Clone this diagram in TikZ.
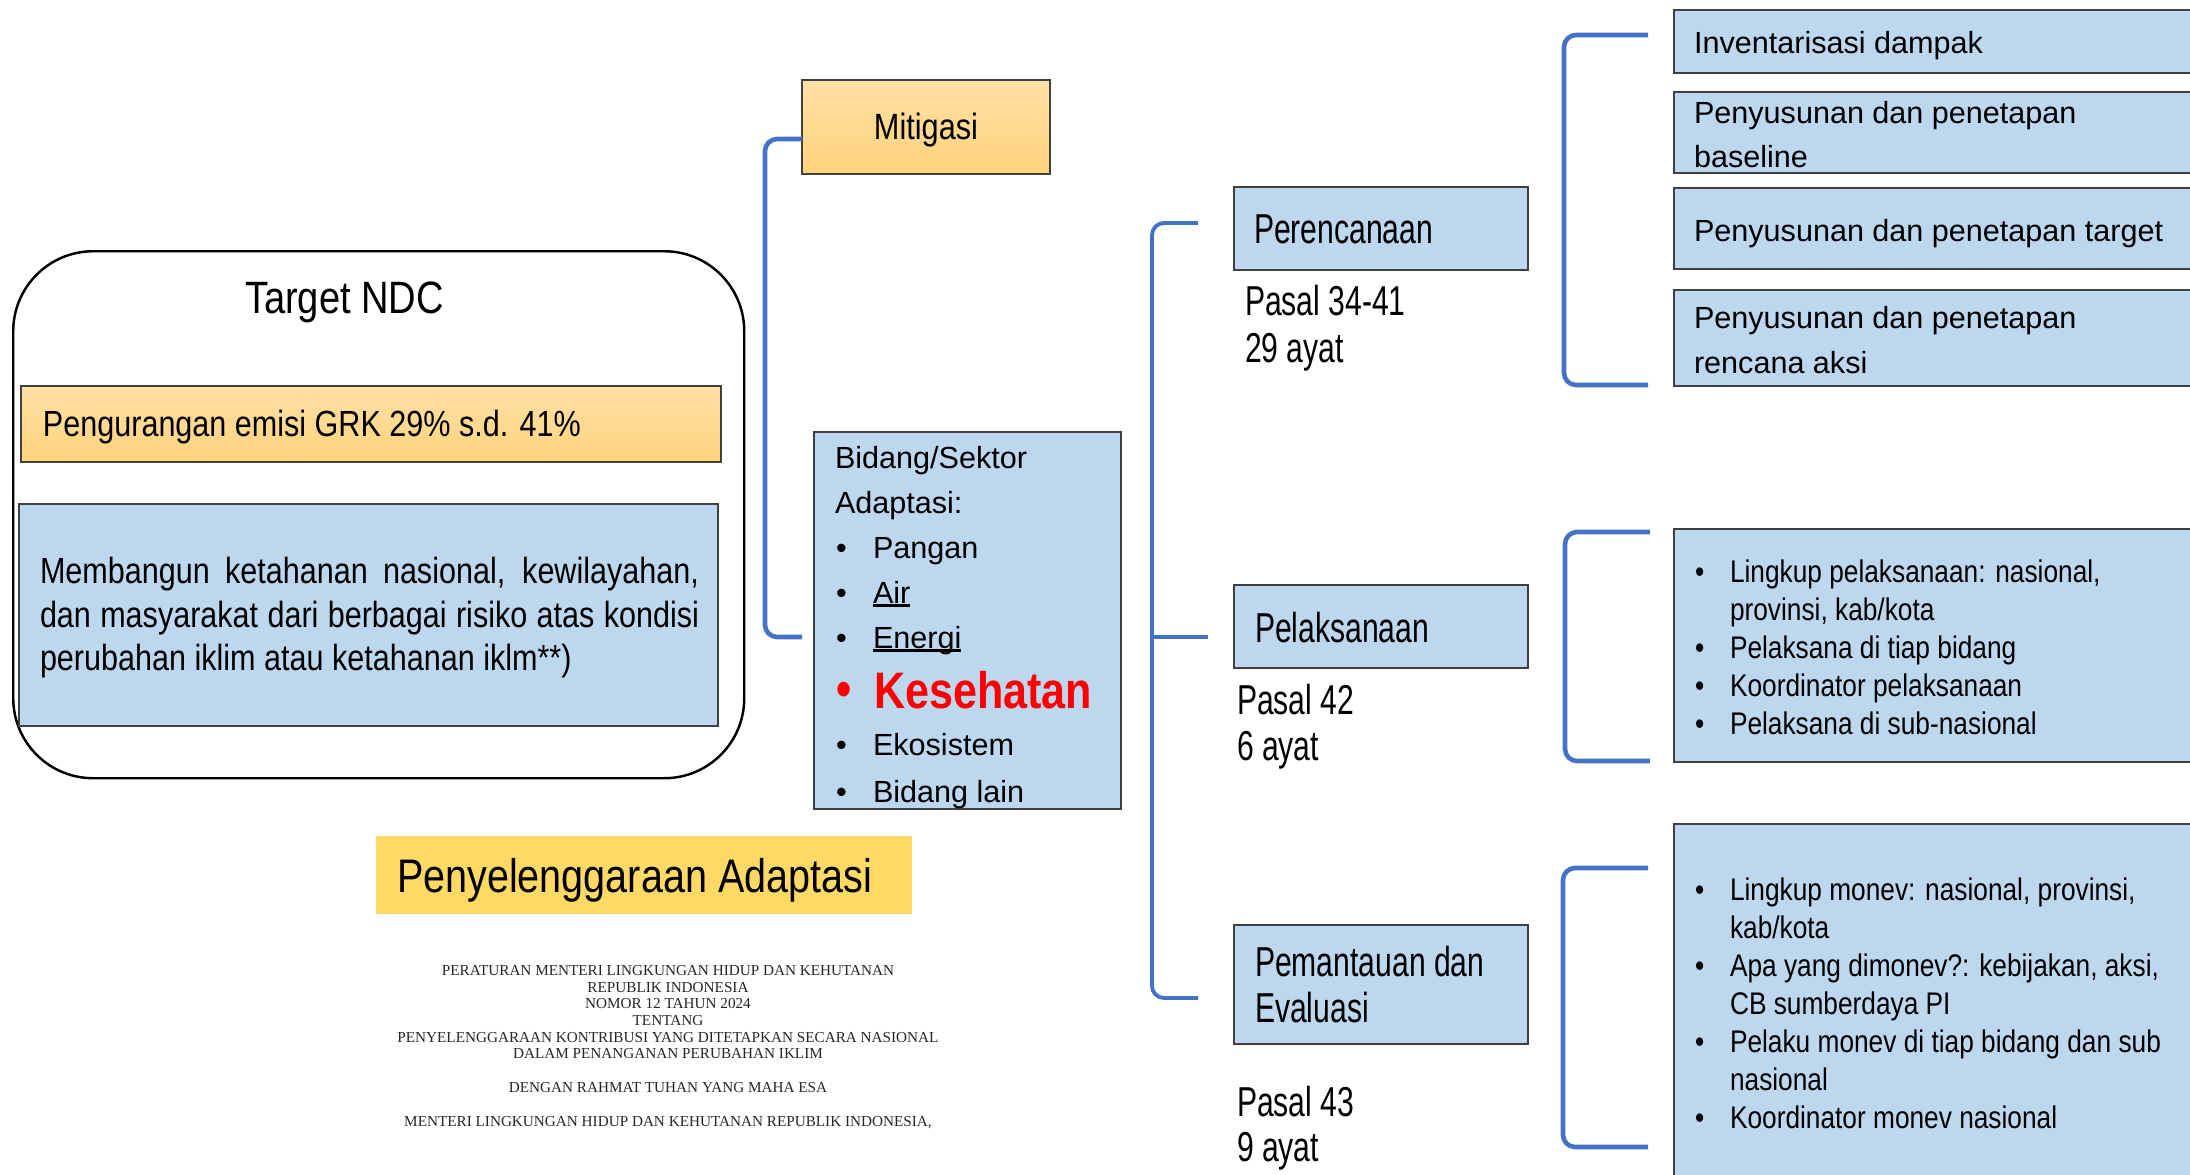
\documentclass[tikz,border=0pt]{standalone}
\usepackage{fontspec}
\setmainfont{Liberation Sans}
\newfontfamily\fntnarrow{Liberation Sans}[FakeStretch=0.84]
\newfontfamily\fntcond{Liberation Sans}[FakeStretch=0.72]
\newfontfamily\fntreg{Liberation Serif}
\usetikzlibrary{positioning}
\definecolor{boxblue}{HTML}{BDD7EE}
\definecolor{orangetop}{HTML}{FFE0A6}
\definecolor{orangebot}{HTML}{FFD37C}
\definecolor{titleyellow}{HTML}{FFD966}
\definecolor{bracketblue}{HTML}{4472C4}
\definecolor{edgegray}{HTML}{404040}
\definecolor{kesred}{HTML}{FF0000}
\newcommand{\sizept}[1]{\fontsize{#1}{#1}\selectfont}
\newcommand{\undl}[1]{\setbox0\hbox{#1}\rlap{\rule[-1pt]{\wd0}{0.6pt}}\box0}
\tikzset{
	bluebox/.style={
			shape=rectangle,
			draw=edgegray,
			line width=0.6pt,
			fill=boxblue,
			inner sep=0pt,
			outer sep=0pt,
			anchor=north west
		},
	orangebox/.style={
			bluebox,
			top color=orangetop,
			bottom color=orangebot
		},
	ndcframe/.style={
			shape=rectangle,
			draw=black,
			line width=0.7pt,
			rounded corners=8mm,
			inner sep=0pt,
			anchor=north west
		},
	txt/.style={
			anchor=base west,
			inner sep=0pt,
			outer sep=0pt
		},
	bracketline/.style={
			draw=bracketblue,
			line width=1.3pt,
			rounded corners=1.2mm
		}
}
\tikzset{
	leftfont/.style={font=\fntnarrow\sizept{10.35}},
	stagefont/.style={font=\fntcond\sizept{11.9}},
	stepfont/.style={font=\sizept{8.7}},
	listfont/.style={font=\fntnarrow\sizept{8.9}},
	regfont/.style={font=\fntreg\sizept{4.33}, anchor=base, inner sep=0pt, text=black!85}
}

\begin{document}
\begin{tikzpicture}[x=0.1mm, y=-0.1mm]

  \useasboundingbox (0,0) rectangle (2190,1174);
  \clip (0,0) rectangle (2190,1174);

  % target NDC
  \node[ndcframe, minimum width=73.1mm, minimum height=52.7mm] (ndc) at (12,250) {};
  \node[txt, font=\fntnarrow\sizept{12.9}] (ndctitle) at (245,313) {Target NDC};
  \node[orangebox, minimum width=70mm, minimum height=7.6mm] (emisi) at (21,386) {};
  \node[txt, leftfont] (emisitext) at (43,436) {Pengurangan emisi GRK 29\% s.d. 41\%};
  \node[bluebox, minimum width=69.9mm, minimum height=22.2mm] (tahanan) at (19,504) {};
  \node[txt, leftfont] (th1) at (40,583) {\makebox[65.9mm][s]{Membangun ketahanan nasional, kewilayahan,}};
  \node[txt, leftfont] (th2) at (40,627) {\makebox[65.9mm][s]{dan masyarakat dari berbagai risiko atas kondisi}};
  \node[txt, leftfont] (th3) at (40,670) {perubahan iklim atau ketahanan iklm**)};

  % mitigasi / adaptasi
  \node[orangebox, minimum width=24.8mm, minimum height=9.4mm] (mitigasi) at (802,80) {};
  \node[font=\fntnarrow\sizept{10.4}, anchor=base, inner sep=0pt] (mittext) at (926,140) {Mitigasi};

  \node[bluebox, minimum width=30.7mm, minimum height=37.7mm] (bidang) at (814,432) {};
  \node[txt, stepfont] (b0) at (835,468) {Bidang/Sektor};
  \node[txt, stepfont] (b1) at (835,513) {Adaptasi:};
  \node[txt, stepfont] at (836,558) {\textbullet};
  \node[txt, stepfont] (b2) at (873,558) {Pangan};
  \node[txt, stepfont] at (836,603) {\textbullet};
  \node[txt, stepfont] (b3) at (873,603) {\undl{Air}};
  \node[txt, stepfont] at (836,648) {\textbullet};
  \node[txt, stepfont] (b4) at (873,648) {\undl{Energi}};
  \node[txt, font=\fntnarrow\bfseries\sizept{14.6}, text=kesred] at (836,706) {\textbullet};
  \node[txt, font=\fntnarrow\bfseries\sizept{14.6}, text=kesred] (b5) at (874,708) {Kesehatan};
  \node[txt, stepfont] at (836,755) {\textbullet};
  \node[txt, stepfont] (b6) at (873,755) {Ekosistem};
  \node[txt, stepfont] at (836,802) {\textbullet};
  \node[txt, stepfont] (b7) at (873,802) {Bidang lain};

  \node[fill=titleyellow, anchor=north west, inner sep=0pt, minimum width=53.6mm, minimum height=7.8mm] (adaptasi) at (375,835) {};
  \node[txt, font=\fntnarrow\sizept{13.4}] (adaptext) at (397,892) {Penyelenggaraan Adaptasi};

  \node[regfont] (r1) at (668,975) {PERATURAN MENTERI LINGKUNGAN HIDUP DAN KEHUTANAN};
  \node[regfont] (r2) at (668,992) {REPUBLIK INDONESIA};
  \node[regfont] (r3) at (668,1008) {NOMOR 12 TAHUN 2024};
  \node[regfont] (r4) at (668,1025) {TENTANG};
  \node[regfont] (r5) at (668,1042) {PENYELENGGARAAN KONTRIBUSI YANG DITETAPKAN SECARA NASIONAL};
  \node[regfont] (r6) at (668,1058) {DALAM PENANGANAN PERUBAHAN IKLIM};
  \node[regfont] (r7) at (668,1092) {DENGAN RAHMAT TUHAN YANG MAHA ESA};
  \node[regfont] (r8) at (668,1126) {MENTERI LINGKUNGAN HIDUP DAN KEHUTANAN REPUBLIK INDONESIA,};

  % tahapan
  \node[bluebox, minimum width=29.4mm, minimum height=8.3mm] (perencanaan) at (1234,187) {};
  \node[txt, stagefont] at (1254,243) {Perencanaan};
  \node[txt, stagefont] (pasal1) at (1245,315) {Pasal 34-41};
  \node[txt, stagefont] (ayat1) at (1245,362) {29 ayat};

  \node[bluebox, minimum width=29.4mm, minimum height=8.3mm] (pelaksanaan) at (1234,585) {};
  \node[txt, stagefont] at (1255,642) {Pelaksanaan};
  \node[txt, stagefont] (pasal2) at (1237,714) {Pasal 42};
  \node[txt, stagefont] (ayat2) at (1237,760) {6 ayat};

  \node[bluebox, minimum width=29.4mm, minimum height=11.9mm] (pemantauan) at (1234,925) {};
  \node[txt, stagefont] at (1255,976) {Pemantauan dan};
  \node[txt, stagefont] at (1255,1022) {Evaluasi};
  \node[txt, stagefont] (pasal3) at (1237,1116) {Pasal 43};
  \node[txt, stagefont] (ayat3) at (1237,1161) {9 ayat};

  % rincian perencanaan
  \node[bluebox, minimum width=53mm, minimum height=6.3mm] (inventaris) at (1674,10) {};
  \node[txt, stepfont] at (1694,54) {Inventarisasi dampak};
  \node[bluebox, minimum width=53mm, minimum height=8.1mm] (baseline) at (1674,92) {};
  \node[txt, stepfont] at (1694,124) {Penyusunan dan penetapan};
  \node[txt, stepfont] at (1694,168) {baseline};
  \node[bluebox, minimum width=53mm, minimum height=8.1mm] (target) at (1674,188) {};
  \node[txt, stepfont] at (1694,241) {Penyusunan dan penetapan target};
  \node[bluebox, minimum width=53mm, minimum height=9.6mm] (aksi) at (1674,290) {};
  \node[txt, stepfont] at (1694,328) {Penyusunan dan penetapan};
  \node[txt, stepfont] at (1694,373) {rencana aksi};

  % rincian pelaksanaan
  \node[bluebox, minimum width=53mm, minimum height=23.3mm] (laksana) at (1674,529) {};
  \node[txt, listfont] at (1695,582) {\textbullet};
  \node[txt, listfont] at (1730,582) {Lingkup pelaksanaan: nasional,};
  \node[txt, listfont] at (1730,620) {provinsi, kab/kota};
  \node[txt, listfont] at (1695,658) {\textbullet};
  \node[txt, listfont] at (1730,658) {Pelaksana di tiap bidang};
  \node[txt, listfont] at (1695,696) {\textbullet};
  \node[txt, listfont] at (1730,696) {Koordinator pelaksanaan};
  \node[txt, listfont] at (1695,734) {\textbullet};
  \node[txt, listfont] at (1730,734) {Pelaksana di sub-nasional};

  % rincian monev
  \node[bluebox, minimum width=53mm, minimum height=37mm] (monev) at (1674,824) {};
  \node[txt, listfont] at (1695,900) {\textbullet};
  \node[txt, listfont] at (1730,900) {Lingkup monev: nasional, provinsi,};
  \node[txt, listfont] at (1730,938) {kab/kota};
  \node[txt, listfont] at (1695,976) {\textbullet};
  \node[txt, listfont] at (1730,976) {Apa yang dimonev?: kebijakan, aksi,};
  \node[txt, listfont] at (1730,1014) {CB sumberdaya PI};
  \node[txt, listfont] at (1695,1052) {\textbullet};
  \node[txt, listfont] at (1730,1052) {Pelaku monev di tiap bidang dan sub};
  \node[txt, listfont] at (1730,1090) {nasional};
  \node[txt, listfont] at (1695,1128) {\textbullet};
  \node[txt, listfont] at (1730,1128) {Koordinator monev nasional};

  % brackets
  \coordinate (mitArm) at (802,139);
  \coordinate (adaArm) at (802,637);
  \draw[bracketline] (mitArm) -- ++(-37,0) |- (adaArm);

  \coordinate (perArm) at (1198,223);
  \coordinate (pemArm) at (1198,998);
  \coordinate (pelStem) at (1152,637);
  \coordinate (pelArm) at (1208,637);
  \draw[bracketline, line width=1.1pt] (perArm) -- ++(-46,0) |- (pemArm);
  \draw[bracketline, line width=0.9pt] (pelStem) -- (pelArm);

  \coordinate (invTop) at (1648,35);
  \coordinate (aksiBot) at (1648,385);
  \draw[bracketline] (invTop) -- ++(-84,0) |- (aksiBot);

  \coordinate (lakTop) at (1650,532);
  \coordinate (lakBot) at (1650,761);
  \draw[bracketline] (lakTop) -- ++(-85,0) |- (lakBot);

  \coordinate (monTop) at (1648,868);
  \coordinate (monBot) at (1648,1147);
  \draw[bracketline] (monTop) -- ++(-85,0) |- (monBot);

\end{tikzpicture}
\end{document}
